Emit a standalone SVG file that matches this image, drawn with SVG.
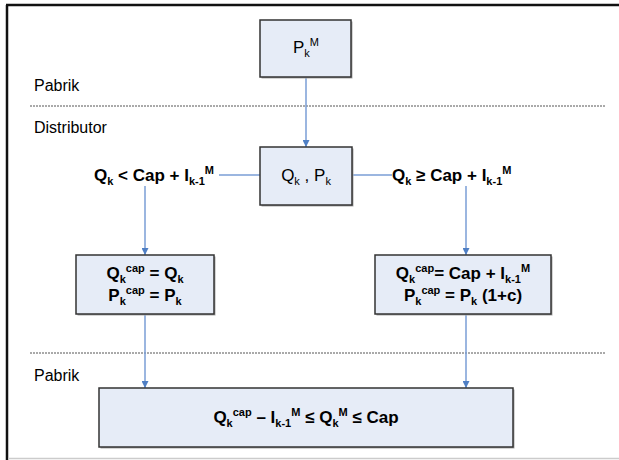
<svg xmlns="http://www.w3.org/2000/svg" width="619" height="460" viewBox="0 0 619 460">
<defs>
<marker id="arr" viewBox="0 0 10 10" refX="10" refY="5" markerWidth="7" markerHeight="7" markerUnits="userSpaceOnUse" orient="auto">
<path d="M0,0 L10,5 L0,10 z" fill="#4F7FC4"/>
</marker>
</defs>
<style>
text{font-family:"Liberation Sans",Arial,sans-serif;fill:#000}
.lbl{font-size:16px}
.nd{font-size:17px}
.b{font-size:17px;font-weight:bold}
.s{font-size:11px}
.box{fill:#E6ECF7;stroke:#333;stroke-width:1.5}
.sh{fill:#aaa}
.con{fill:none;stroke:#7A9ED6;stroke-width:1.5}
.dash{stroke:#555;stroke-width:1;stroke-dasharray:2,1}
</style>
<rect width="619" height="460" fill="#fff"/>
<g id="frame">
<line x1="7" y1="5" x2="7" y2="460" stroke="#111" stroke-width="2.5"/>
<line x1="6" y1="5" x2="619" y2="5" stroke="#111" stroke-width="2.5"/>
<line x1="8" y1="458.5" x2="619" y2="458.5" stroke="#ccc" stroke-width="1.5"/>
</g>
<g id="lanes">
<line class="dash" x1="30" y1="106" x2="605" y2="106"/>
<line class="dash" x1="30" y1="353" x2="605" y2="353"/>
<text class="lbl" x="34" y="91">Pabrik</text>
<text class="lbl" x="34" y="133">Distributor</text>
<text class="lbl" x="34" y="381">Pabrik</text>
</g>
<g id="connectors">
<line class="con" x1="306" y1="77" x2="306" y2="147" marker-end="url(#arr)"/>
<line class="con" x1="260" y1="175" x2="219" y2="175"/>
<line class="con" x1="352" y1="175" x2="392" y2="175"/>
<line class="con" x1="145" y1="186" x2="145" y2="255" marker-end="url(#arr)"/>
<line class="con" x1="466" y1="186" x2="466" y2="255" marker-end="url(#arr)"/>
<line class="con" x1="145" y1="314" x2="145" y2="388" marker-end="url(#arr)"/>
<line class="con" x1="466" y1="314" x2="466" y2="388" marker-end="url(#arr)"/>
</g>
<g id="n-pkm">
<rect class="sh" x="261.5" y="21.5" width="91" height="57"/>
<rect class="box" x="260" y="20" width="91" height="57"/>
<text class="nd" x="306" y="53" text-anchor="middle">P<tspan class="s" dy="4">k</tspan><tspan class="s" dy="-11">M</tspan></text>
</g>
<g id="n-qkpk">
<rect class="sh" x="261.5" y="148.5" width="92" height="58"/>
<rect class="box" x="260" y="147" width="92" height="58"/>
<text class="nd" x="306" y="181" text-anchor="middle">Q<tspan class="s" dy="4">k</tspan><tspan dy="-4"> , P</tspan><tspan class="s" dy="4">k</tspan></text>
</g>
<g id="cond-left">
<text class="b" x="94" y="181">Q<tspan class="s" dy="4">k</tspan><tspan dy="-4"> &lt; Cap + I</tspan><tspan class="s" dy="4">k-1</tspan><tspan class="s" dy="-11">M</tspan></text>
</g>
<g id="cond-right">
<text class="b" x="392" y="181">Q<tspan class="s" dy="4">k</tspan><tspan dy="-4"> ≥ Cap + I</tspan><tspan class="s" dy="4">k-1</tspan><tspan class="s" dy="-11">M</tspan></text>
</g>
<g id="n-left">
<rect class="sh" x="77.5" y="256.5" width="138" height="59"/>
<rect class="box" x="76" y="255" width="138" height="59"/>
<text class="b" x="145" y="279" text-anchor="middle">Q<tspan class="s" dy="4">k</tspan><tspan class="s" dy="-11">cap</tspan><tspan dy="7"> = Q</tspan><tspan class="s" dy="4">k</tspan></text>
<text class="b" x="145" y="301" text-anchor="middle">P<tspan class="s" dy="4">k</tspan><tspan class="s" dy="-11">cap</tspan><tspan dy="7"> = P</tspan><tspan class="s" dy="4">k</tspan></text>
</g>
<g id="n-right">
<rect class="sh" x="376.5" y="256.5" width="176" height="59"/>
<rect class="box" x="375" y="255" width="176" height="59"/>
<text class="b" x="463" y="279" text-anchor="middle">Q<tspan class="s" dy="4">k</tspan><tspan class="s" dy="-11">cap</tspan><tspan dy="7">= Cap + I</tspan><tspan class="s" dy="4">k-1</tspan><tspan class="s" dy="-11">M</tspan></text>
<text class="b" x="463" y="301" text-anchor="middle">P<tspan class="s" dy="4">k</tspan><tspan class="s" dy="-11">cap</tspan><tspan dy="7"> = P</tspan><tspan class="s" dy="4">k</tspan><tspan dy="-4"> (1+c)</tspan></text>
</g>
<g id="n-bottom">
<rect class="sh" x="100.5" y="389.5" width="414" height="59"/>
<rect class="box" x="99" y="388" width="414" height="59"/>
<text class="b" x="306" y="423" text-anchor="middle">Q<tspan class="s" dy="4">k</tspan><tspan class="s" dy="-11">cap</tspan><tspan dy="7"> – I</tspan><tspan class="s" dy="4">k-1</tspan><tspan class="s" dy="-11">M</tspan><tspan dy="7"> ≤ Q</tspan><tspan class="s" dy="4">k</tspan><tspan class="s" dy="-11">M</tspan><tspan dy="7"> ≤ Cap</tspan></text>
</g>
</svg>
